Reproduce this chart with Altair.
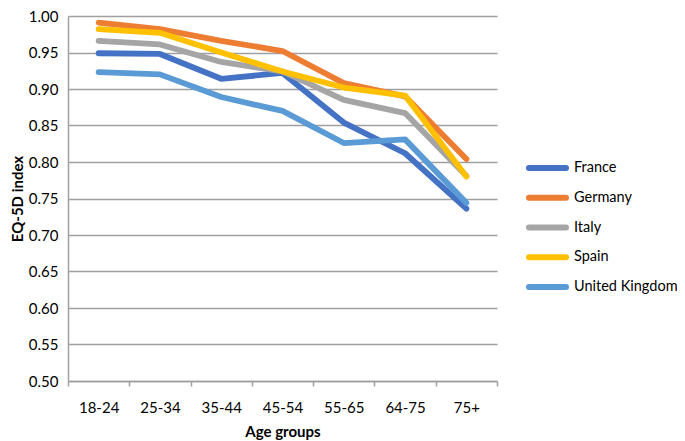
import altair as alt
import pandas as pd

ages = ["18-24", "25-34", "35-44", "45-54", "55-65", "64-75", "75+"]
countries = ["France", "Germany", "Italy", "Spain", "United Kingdom"]
colors = ["#4472C4", "#ED7D31", "#A5A5A5", "#FFC000", "#5B9BD5"]

france = [0.949, 0.948, 0.914, 0.922, 0.854, 0.812, 0.736]
germany = [0.991, 0.982, 0.966, 0.952, 0.908, 0.890, 0.804]
italy = [0.966, 0.961, 0.937, 0.924, 0.885, 0.867, 0.781]
spain = [0.982, 0.977, 0.950, 0.924, 0.902, 0.891, 0.780]
uk = [0.923, 0.920, 0.889, 0.870, 0.826, 0.831, 0.744]

series = [france, germany, italy, spain, uk]
rows = []
for ci, (c, vals) in enumerate(zip(countries, series)):
    for a, v in zip(ages, vals):
        rows.append({"Country": c, "Age": a, "Value": v, "ord": ci})
df = pd.DataFrame(rows)
leg_df = pd.DataFrame({"Country": countries})

FONT = "Lato"
color_scale = alt.Scale(domain=countries, range=colors)

lines = alt.Chart(df).mark_line(strokeWidth=5.8, strokeCap="round", strokeJoin="round").encode(
    x=alt.X("Age:N", sort=ages, title="Age groups",
            axis=alt.Axis(labelAngle=0, tickBand="extent", labelPadding=14, titlePadding=9)),
    y=alt.Y("Value:Q", title="EQ-5D index",
            scale=alt.Scale(domain=[0.5, 1.0], nice=False, zero=False),
            axis=alt.Axis(values=[0.5 + 0.05 * i for i in range(11)], format=".2f",
                          ticks=False, labelPadding=10, titlePadding=3)),
    color=alt.Color("Country:N", sort=countries, scale=color_scale, legend=None),
    order=alt.Order("ord:Q"),
)

leg_y = alt.Y("Country:N", sort=countries,
              scale=alt.Scale(type="point", range=[152, 271], padding=0), axis=None)

leg_sym = alt.Chart(leg_df).mark_rule(strokeWidth=6, strokeCap="round").encode(
    x=alt.value(461), x2=alt.value(498), y=leg_y,
    color=alt.Color("Country:N", sort=countries, scale=color_scale, legend=None),
)
leg_txt = alt.Chart(leg_df).mark_text(align="left", baseline="middle", font=FONT,
                                      fontSize=14.5, color="#000000").encode(
    x=alt.value(506), y=leg_y, text="Country:N",
)

chart = alt.layer(lines, leg_sym, leg_txt).resolve_scale(y="independent").properties(
    width=429, height=365,
    autosize=alt.AutoSizeParams(type="none"),
    padding={"left": 60, "top": 8, "right": 180, "bottom": 62},
).configure_axis(
    labelFont=FONT, labelFontSize=15, labelColor="#000000",
    titleFont=FONT, titleFontSize=15, titleFontWeight="bold", titleColor="#000000",
    domainColor="#a0a0a0", domainWidth=1.5, tickColor="#a0a0a0", tickWidth=1.5, tickSize=5,
    gridColor="#a0a0a0", gridWidth=1.5,
).configure_axisX(grid=False).configure_axisY(grid=True).configure_view(stroke=None)

chart.save("out.html", embed_options={"renderer": "svg", "actions": False})
